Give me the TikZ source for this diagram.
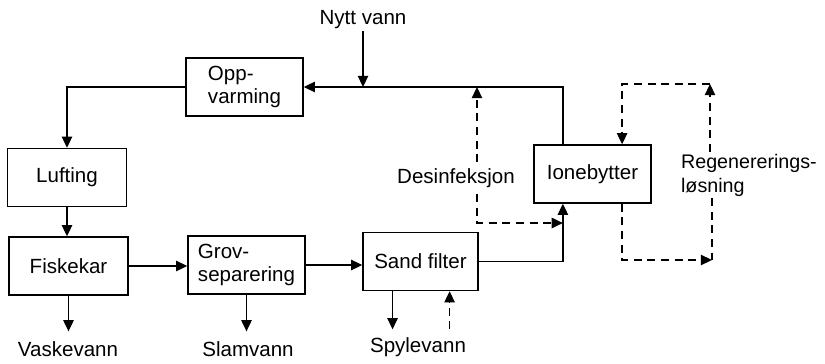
\documentclass[tikz,border=0pt]{standalone}
\usepackage{fontspec}
\setmainfont{Liberation Sans}
\usetikzlibrary{arrows.meta, calc}

\begin{document}
\begin{tikzpicture}[x=0.025cm, y=-0.025cm, >={Triangle[length=2.8mm, width=2.6mm]}, line width=1pt,
  font=\fontsize{14.6}{17}\selectfont,
  procbox/.style={draw, minimum width=2.925cm, minimum height=1.45cm, align=left, inner sep=0pt},
  flowlabel/.style={inner sep=1pt, align=left},
  flowdash/.style={dash pattern=on 2mm off 1.4mm}]
  \useasboundingbox (0,0) rectangle (825,363);
  % --- prosessenheter ---
  \node[procbox] (opp) at (244.5,87) {Opp-\\varming};
  \node[procbox, minimum width=2.975cm] (luft) at (67,177.5) {Lufting};
  \node[procbox, minimum width=2.975cm] (fisk) at (68.5,266) {Fiskekar};
  \node[procbox] (grov) at (246.5,265) {Grov-\\separering};
  \node[procbox, minimum width=2.875cm] (sand) at (420.5,261.5) {Sand filter};
  \node[procbox] (ione) at (592.5,174) {Ionebytter};
  % --- tekster ---
  \node[flowlabel] (nytt) at (363,20) {Nytt vann};
  \node[flowlabel, inner ysep=4pt] (des) at (456,178) {Desinfeksjon};
  \node[flowlabel, anchor=west, font=\fontsize{14}{17}\selectfont] (reg) at (679,175) {Regenererings-\\løsning};
  \node[flowlabel] (vask) at (68,349) {Vaskevann};
  \node[flowlabel] (slam) at (248,349) {Slamvann};
  \node[flowlabel] (spyl) at (418,347) {Spylevann};
  % --- hjelpepunkter ---
  \coordinate (itl) at ($(ione.north west)!0.25!(ione.north east)$);
  \coordinate (itr) at ($(ione.north west)!0.75!(ione.north east)$);
  \coordinate (ibl) at ($(ione.south west)!0.25!(ione.south east)$);
  \coordinate (ibr) at ($(ione.south west)!0.75!(ione.south east)$);
  \coordinate (sbl) at ($(sand.south west)!0.26!(sand.south east)$);
  \coordinate (sbr) at ($(sand.south west)!0.75!(sand.south east)$);
  \coordinate (dtop) at (477,0 |- opp.east);
  \coordinate (dend) at (ibl |- 0,223);
  \coordinate (rtop) at (710,84);
  \coordinate (rbot) at (712,260);
  % --- hovedstrom ---
  \draw[->] (itl) |- (opp.east);
  \draw[->] (nytt.south) -- (nytt.south |- opp.east);
  \draw[->] (opp.west) -| (luft.north);
  \draw[->] (luft.south) -- (luft.south |- fisk.north);
  \draw[->] (fisk.east) -- (fisk.east -| grov.west);
  \draw[->] (grov.east) -- (grov.east -| sand.west);
  \draw[->] (sand.east) -| (ibl);
  % --- utlop ---
  \draw[->, shorten >=2mm] (fisk.south) -- (fisk.south |- vask.north);
  \draw[->, shorten >=2mm] (grov.south) -- (grov.south |- slam.north);
  \draw[->, shorten >=1.5mm] (sbl) -- (sbl |- spyl.north);
  \draw[flowdash, ->, shorten <=1.5mm] (sbr |- spyl.north) -- (sbr);
  % --- desinfeksjon ---
  \draw[flowdash, ->] (des.north -| dtop) -- (dtop);
  \draw[flowdash, ->] (des.south -| dtop) |- (dend);
  % --- regenerering ---
  \draw[flowdash, ->] (reg.north -| rtop) -- (rtop);
  \draw[flowdash, ->] (rtop) -| (itr);
  \draw[flowdash, ->] (ibr) |- (rbot);
  \draw[flowdash] (reg.south -| rbot) -- (rbot);
\end{tikzpicture}
\end{document}
